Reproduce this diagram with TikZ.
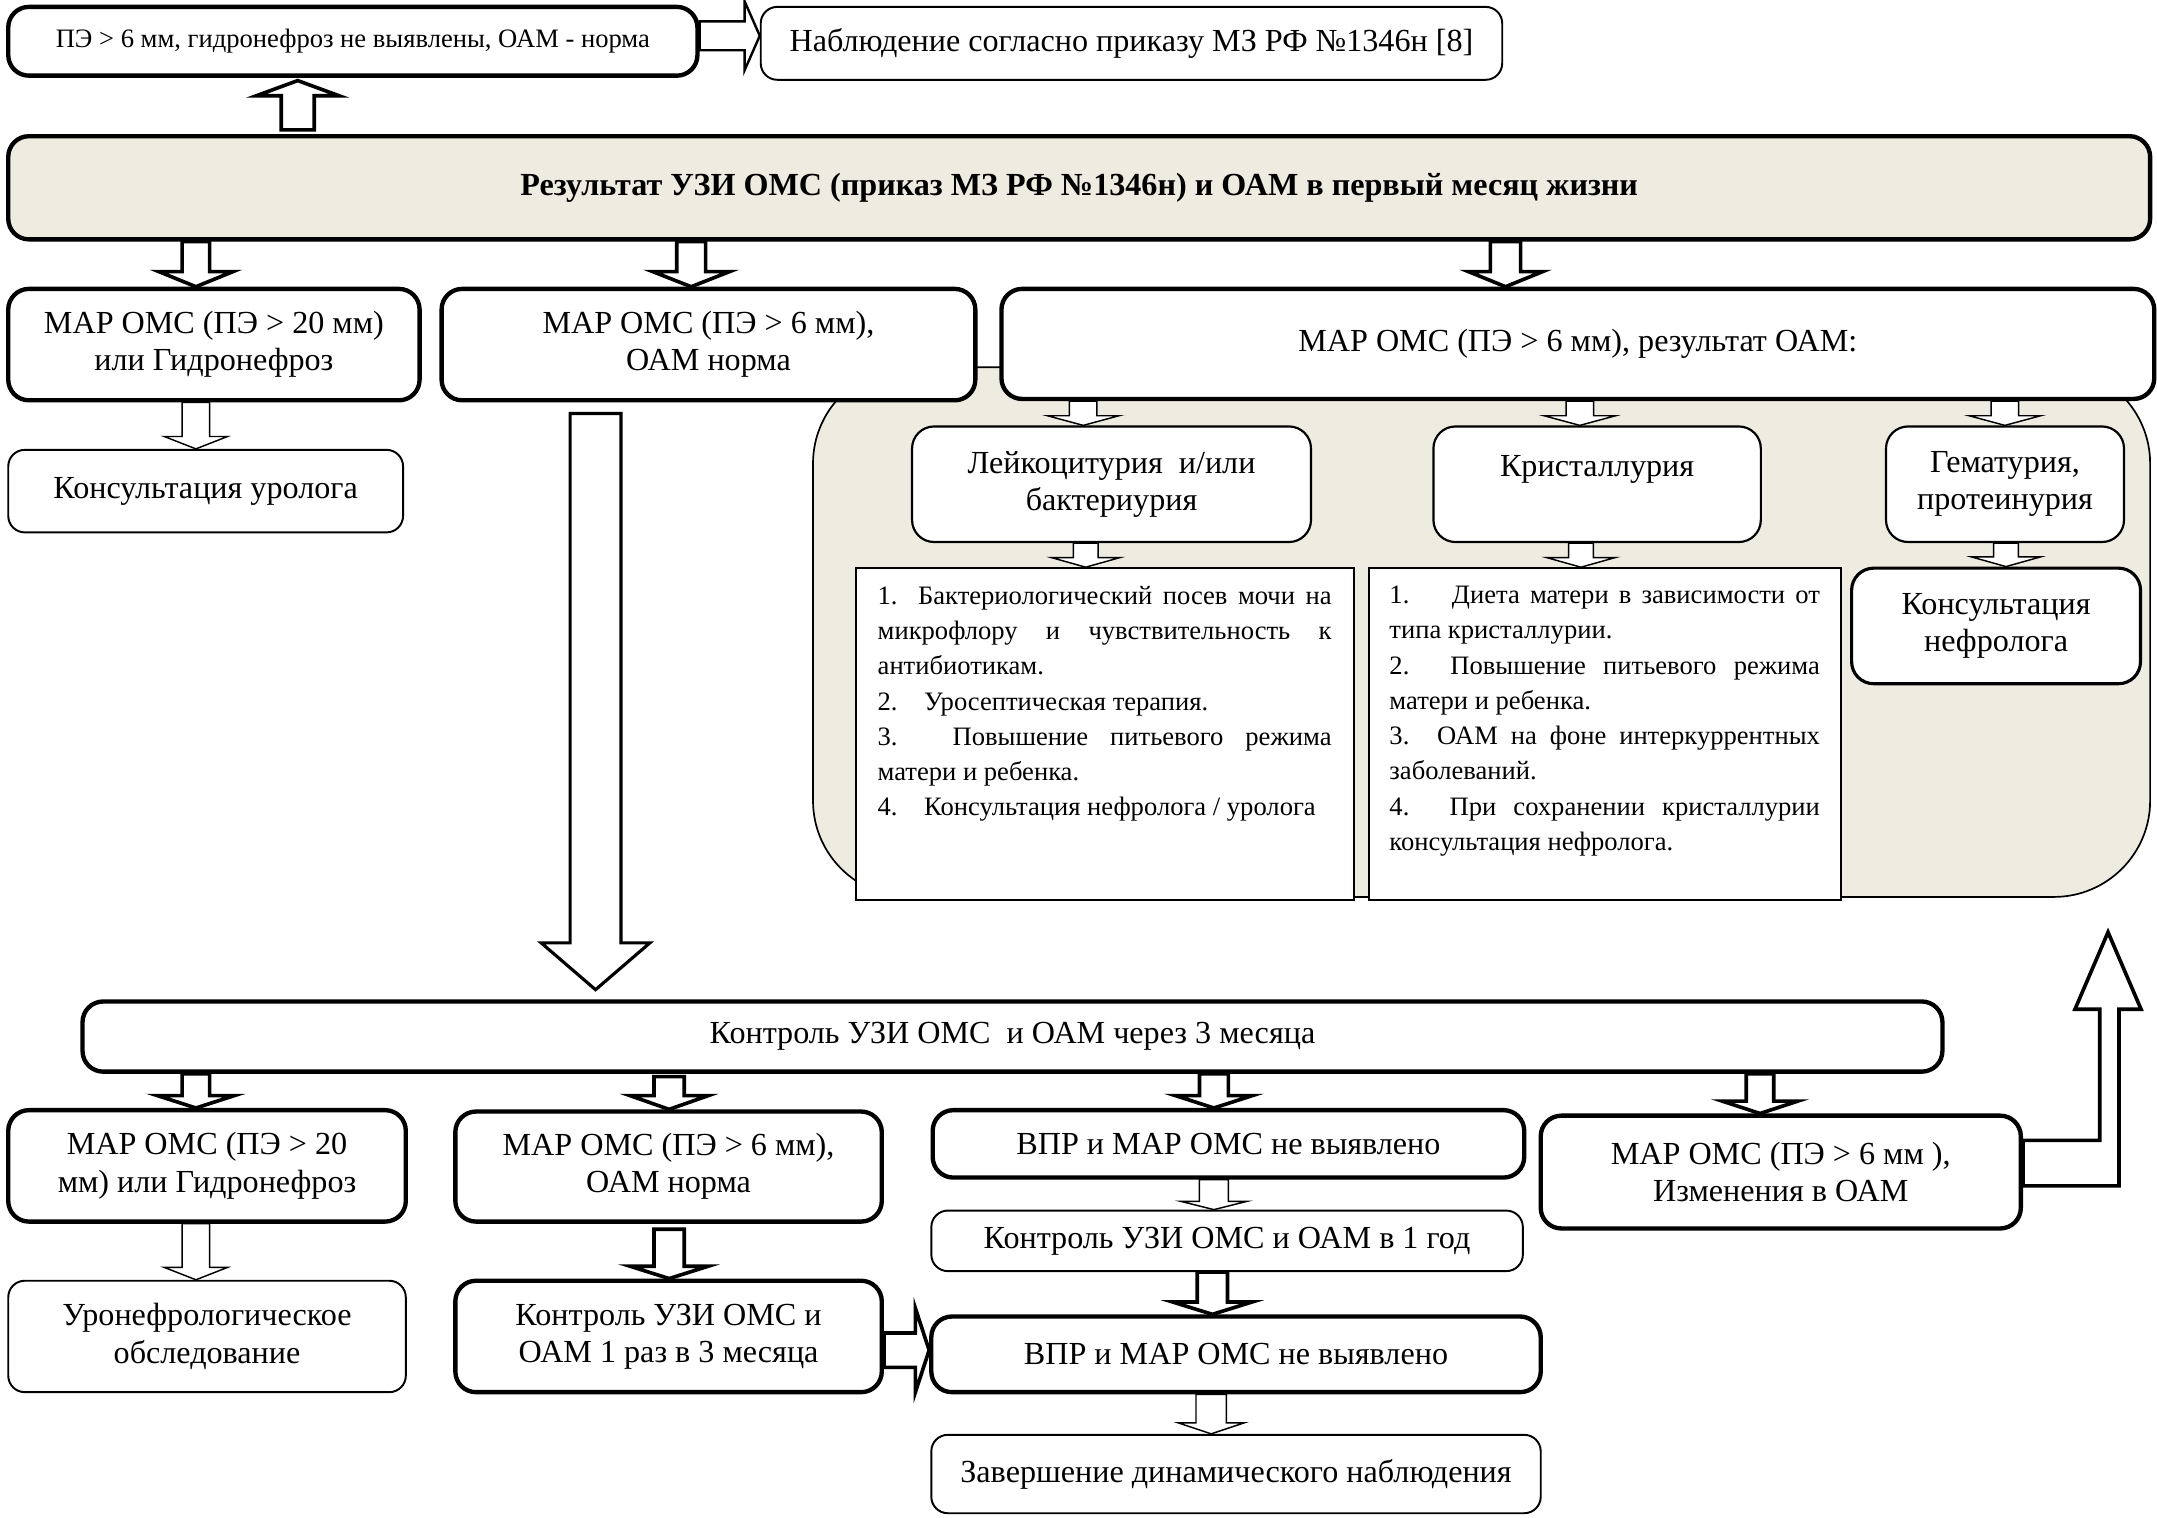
\documentclass[tikz,border=0pt]{standalone}
\usepackage{fontspec}
\setmainfont{Liberation Serif}
\usetikzlibrary{calc}
\pgfdeclarelayer{bg}\pgfdeclarelayer{arr}\pgfsetlayers{bg,arr,main}
\definecolor{beige}{HTML}{EEECE1}
\newcommand\fsN{\fontsize{13.3}{15.4}\selectfont}
\newcommand\fsS{\fontsize{11}{14.6}\selectfont}
\newcommand\uu{0.5691pt}
\newcommand\bx[7]{\node[#6, minimum width={(#4-#2)*0.02cm}, minimum height={(#5-#3)*0.02cm}] (#1) at ({(#2+#4)/2},{(#3+#5)/2}) {#7};}
% down block arrow: style, start (x & y), tip (y), shaft half, head half, head length
\newcommand\darr[6]{\begin{pgfonlayer}{arr}\draw[#1] let \p1=#2, \p2=#3 in
 ({\x1-#4*\uu},\y1) -- ({\x1-#4*\uu},{\y2+#6*\uu}) -- ({\x1-#5*\uu},{\y2+#6*\uu}) -- (\x1,\y2) -- ({\x1+#5*\uu},{\y2+#6*\uu}) -- ({\x1+#4*\uu},{\y2+#6*\uu}) -- ({\x1+#4*\uu},\y1) -- cycle;\end{pgfonlayer}}
\newcommand\uarr[6]{\begin{pgfonlayer}{arr}\draw[#1] let \p1=#2, \p2=#3 in
 ({\x1-#4*\uu},\y1) -- ({\x1-#4*\uu},{\y2-#6*\uu}) -- ({\x1-#5*\uu},{\y2-#6*\uu}) -- (\x1,\y2) -- ({\x1+#5*\uu},{\y2-#6*\uu}) -- ({\x1+#4*\uu},{\y2-#6*\uu}) -- ({\x1+#4*\uu},\y1) -- cycle;\end{pgfonlayer}}
\newcommand\rarr[6]{\begin{pgfonlayer}{arr}\draw[#1] let \p1=#2, \p2=#3 in
 (\x1,{\y1+#4*\uu}) -- ({\x2-#6*\uu},{\y1+#4*\uu}) -- ({\x2-#6*\uu},{\y1+#5*\uu}) -- (\x2,\y1) -- ({\x2-#6*\uu},{\y1-#5*\uu}) -- ({\x2-#6*\uu},{\y1-#4*\uu}) -- (\x1,{\y1-#4*\uu}) -- cycle;\end{pgfonlayer}}
\tikzset{
 thickbox/.style={draw, line width=1.8pt, rounded corners=0.3cm, fill=white, align=center, font=\fsN, inner sep=0pt},
 thinbox/.style={draw, line width=0.8pt, rounded corners=0.24cm, fill=white, align=center, font=\fsN, inner sep=0pt},
 subbox/.style={draw, line width=0.9pt, rounded corners=0.32cm, fill=white, align=center, font=\fsN, inner sep=0pt},
 listbox/.style={draw, line width=0.8pt, fill=white, inner sep=0pt},
 regionbox/.style={draw, line width=0.7pt, fill=beige, rounded corners=1.4cm, inner sep=0pt},
 arrthick/.style={draw, fill=white, line width=1.5pt},
 arrmed/.style={draw, fill=white, line width=1pt},
 arrthin/.style={draw, fill=white, line width=0.6pt},
 arrbig/.style={draw, fill=white, line width=1.3pt}
}
\begin{document}
\begin{tikzpicture}[x=0.02cm, y=-0.02cm]
\useasboundingbox (0,0) rectangle (1568,1103);
% region
\begin{pgfonlayer}{bg}
\bx{region}{591}{267}{1563}{652}{regionbox}{}
\end{pgfonlayer}
% boxes
\bx{top1}{6}{5}{507}{55}{thickbox, font=\fsS}{ПЭ > 6 мм, гидронефроз не выявлены, ОАМ - норма}
\bx{obs}{553}{5}{1092}{58}{thinbox}{Наблюдение согласно приказу МЗ РФ №1346н [8]}
\bx{main}{6}{99}{1563}{174}{thickbox, fill=beige, font=\fsN\bfseries}{\raisebox{-3pt}{Результат УЗИ ОМС (приказ МЗ РФ №1346н) и ОАМ в первый месяц жизни}}
\bx{mar20}{6}{210}{305}{291}{thickbox}{МАР ОМС (ПЭ > 20 мм)\\или Гидронефроз}
\bx{mar6}{321}{210}{709}{291}{thickbox}{МАР ОМС (ПЭ > 6 мм),\\ОАМ норма}
\bx{marres}{728}{210}{1566}{290}{thickbox}{МАР ОМС (ПЭ > 6 мм), результат ОАМ:}
\bx{uro}{6}{327}{293}{387}{thinbox}{Консультация уролога}
\bx{leuk}{663}{310}{953}{394}{subbox}{Лейкоцитурия~ и/или\\бактериурия}
\bx{cryst}{1042}{310}{1280}{394}{subbox}{Кристаллурия\\\mbox{}}
\bx{hem}{1371}{310}{1544}{394}{subbox}{Гематурия,\\протеинурия}
\bx{list1}{622}{413}{984}{654}{listbox}{\parbox[c][137pt][t]{187.8pt}{\fsS\vspace*{7.3pt}%
\makebox[\linewidth][s]{1. Бактериологический посев мочи на}\\
\makebox[\linewidth][s]{микрофлору и чувствительность к}\\
антибиотикам.\\
2.\hspace{1.0em}Уросептическая терапия.\\
\makebox[\linewidth][s]{3. Повышение питьевого режима}\\
матери и ребенка.\\
4.\hspace{1.0em}Консультация нефролога / уролога}}
\bx{list2}{995}{413}{1338}{654}{listbox}{\parbox[c][137pt][t]{178.1pt}{\fsS\vspace*{7.3pt}%
\makebox[\linewidth][s]{1.\hspace{1.6em}Диета матери в зависимости от}\\
типа кристаллурии.\\
\makebox[\linewidth][s]{2. Повышение питьевого режима}\\
матери и ребенка.\\
\makebox[\linewidth][s]{3. ОАМ на фоне интеркуррентных}\\
заболеваний.\\
\makebox[\linewidth][s]{4. При сохранении кристаллурии}\\
консультация нефролога.}}
\bx{neph}{1346}{413}{1556}{497}{subbox, line width=1.3pt}{Консультация\\нефролога}
\bx{ctrl3}{60}{728}{1412}{779}{thickbox}{Контроль УЗИ ОМС~ и ОАМ через 3 месяца}
\bx{b20}{6}{807}{295}{888}{thickbox}{МАР ОМС (ПЭ > 20\\мм) или Гидронефроз}
\bx{b6}{331}{808}{641}{888}{thickbox}{МАР ОМС (ПЭ > 6 мм),\\ОАМ норма}
\bx{vpr1}{678}{807}{1108}{856}{thickbox}{ВПР и МАР ОМС не выявлено}
\bx{chg}{1120}{811}{1469}{893}{thickbox}{МАР ОМС (ПЭ > 6 мм ),\\Изменения в ОАМ}
\bx{uronef}{6}{931}{295}{1012}{thinbox}{Уронефрологическое\\обследование}
\bx{ctrl1r}{331}{931}{641}{1012}{thickbox}{Контроль УЗИ ОМС и\\ОАМ 1 раз в 3 месяца}
\bx{ctrl1y}{677}{880}{1107}{924}{thinbox}{Контроль УЗИ ОМС и ОАМ в 1 год}
\bx{vpr2}{677}{957}{1120}{1012}{thickbox}{ВПР и МАР ОМС не выявлено}
\bx{fin}{677}{1043}{1120}{1100}{thinbox}{Завершение динамического наблюдения}
% arrows
\uarr{arrthick}{($(main.north west)+(212,-3)$)}{($(top1.south)+(0,2)$)}{12}{30}{11}
\rarr{arrmed}{($(top1.east)+(0,-4)$)}{(obs.west)}{10.5}{25}{11}
\darr{arrthick}{($(main.south west)+(138,0)$)}{(mar20.north)}{10}{27}{11}
\darr{arrthick}{($(main.south west)+(498,0)$)}{(mar6.north)}{10.5}{28}{11}
\darr{arrthick}{($(main.south west)+(1090,0)$)}{(marres.north)}{11}{27}{11}
\darr{arrthin}{($(mar20.south west)+(138,0)$)}{(uro.north)}{10}{23}{9}
\darr{arrbig}{($(mar6.south west)+(113.5,8)$)}{($(ctrl3.north)+(0,-7)$)}{18.5}{39.5}{34}
\darr{arrthin}{($(marres.south west)+(61,0)$)}{(leuk.north)}{10}{26}{7}
\darr{arrthin}{($(marres.south west)+(422,0)$)}{(cryst.north)}{10}{26}{7}
\darr{arrthin}{($(marres.south west)+(731,0)$)}{(hem.north)}{10}{26}{7}
\darr{arrthin}{($(leuk.south west)+(127,0)$)}{(list1.north)}{9}{25}{7}
\darr{arrthin}{($(cryst.south west)+(108,0)$)}{(list2.north)}{9}{25}{7}
\darr{arrthin}{($(hem.south west)+(88,0)$)}{(neph.north)}{9}{25}{7}
\darr{arrthick}{($(ctrl3.south west)+(84,0)$)}{(b20.north)}{10}{28}{9}
\darr{arrthick}{($(ctrl3.south west)+(428,2)$)}{(b6.north)}{11}{28.5}{10}
\darr{arrthick}{($(ctrl3.south west)+(824,0)$)}{(vpr1.north)}{10.5}{28}{9}
\darr{arrthick}{($(ctrl3.south west)+(1221,0)$)}{(chg.north)}{10}{27.5}{9}
\darr{arrthin}{($(b20.south west)+(138,0)$)}{(uronef.north)}{10}{23}{9}
\darr{arrthick}{($(b6.south west)+(157,4)$)}{(ctrl1r.north)}{11}{28.5}{9}
\darr{arrthin}{($(vpr1.south west)+(206,0)$)}{(ctrl1y.north)}{10.5}{24}{6}
\darr{arrthick}{($(ctrl1y.south west)+(205,0)$)}{(vpr2.north)}{11}{29}{9}
\darr{arrthin}{($(vpr2.south west)+(205,0)$)}{(fin.north)}{11}{24}{8}
\rarr{arrthick}{($(ctrl1r.east)+(0,10)$)}{(vpr2.west)}{12.5}{30.5}{10}
% bent-up arrow back to the region
\coordinate (uptip) at ($(region.south west)+(942,25)$);
\begin{pgfonlayer}{arr}
\draw[arrthick] let \p1=(chg.east), \p2=(uptip) in
 (\x1,{\y1+23*\uu}) -- ({\x2-6*\uu},{\y1+23*\uu}) -- ({\x2-6*\uu},{\y2-56*\uu}) -- ({\x2-24*\uu},{\y2-56*\uu}) -- (\x2,\y2) -- ({\x2+24*\uu},{\y2-56*\uu}) -- ({\x2+8*\uu},{\y2-56*\uu}) -- ({\x2+8*\uu},{\y1-10*\uu}) -- (\x1,{\y1-10*\uu}) -- cycle;
\end{pgfonlayer}
\end{tikzpicture}
\end{document}
